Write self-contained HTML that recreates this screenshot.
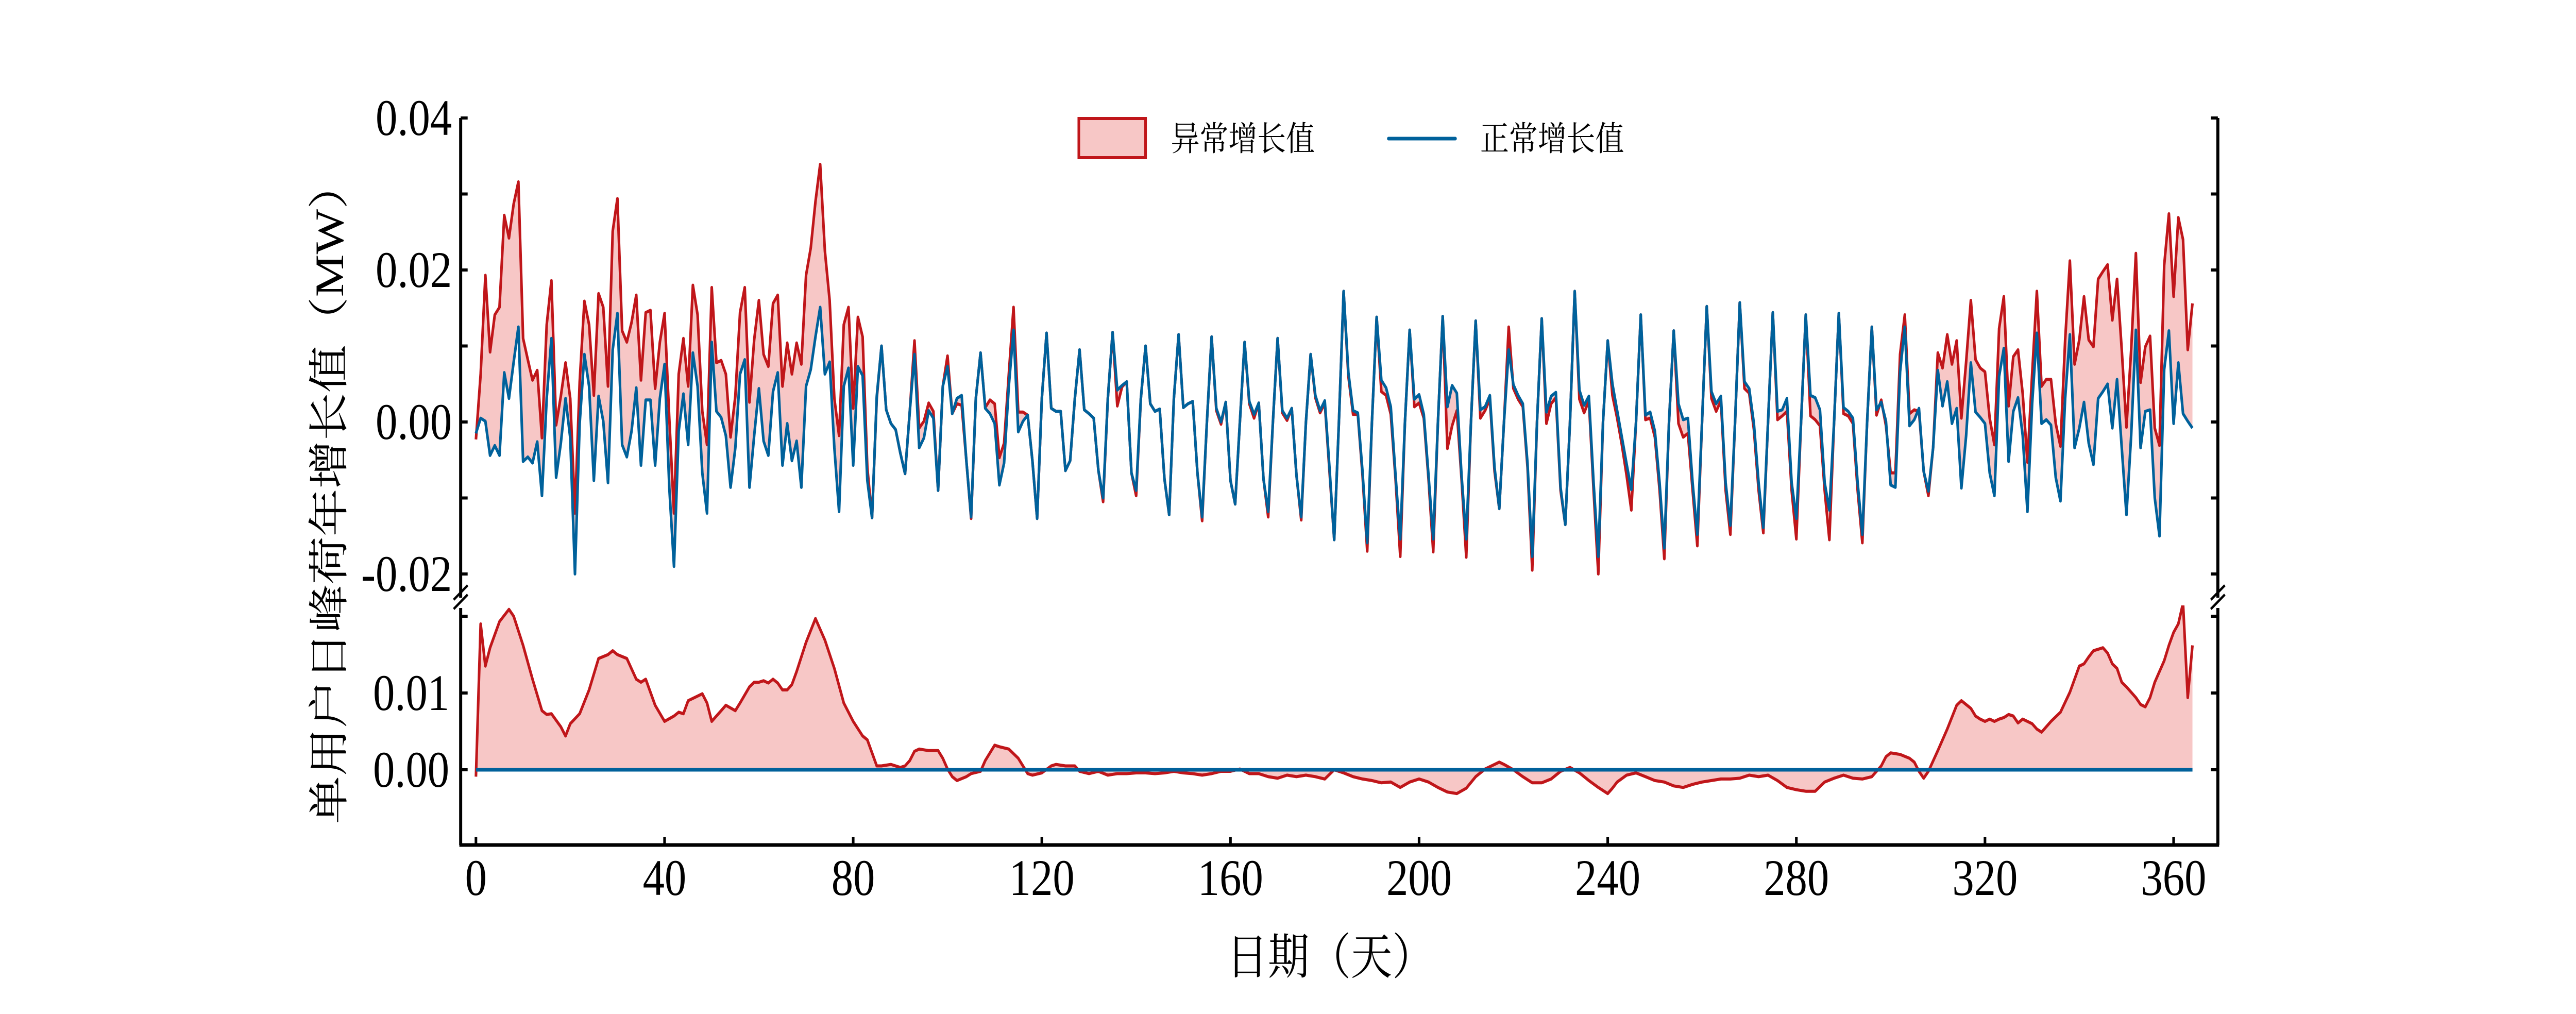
<!DOCTYPE html>
<html><head><meta charset="utf-8"><style>
html,body{margin:0;padding:0;background:#fff;overflow:hidden;width:100%;height:100%;}
svg{display:block;width:100vw;height:100vh;}
text{font-family:"Liberation Serif","Noto Serif CJK SC",serif;fill:#000;}
</style></head><body>
<svg id="chart" viewBox="0 0 5905 1968" preserveAspectRatio="none" xmlns="http://www.w3.org/2000/svg">
<defs>
<clipPath id="clipTop"><rect x="1056" y="200" width="4028" height="960"/></clipPath>
<clipPath id="clipBot"><rect x="1056" y="1175" width="4028" height="465"/></clipPath>
</defs>
<g id="topPanel" clip-path="url(#clipTop)"></g>
<g id="botPanel" clip-path="url(#clipBot)"></g>
<g id="axes"></g>
<g>
<rect x="2473" y="230" width="153" height="76" fill="#F7C7C6" stroke="#C0161A" stroke-width="6"/>
<text x="2684" y="292" font-size="66">异常增长值</text>
<line x1="3183" y1="269" x2="3336" y2="269" stroke="#00619B" stroke-width="7" stroke-linecap="round"/>
<text x="3393" y="292" font-size="66">正常增长值</text>
</g>
<text transform="translate(755,956) rotate(-90)" text-anchor="middle" dominant-baseline="central" font-size="93">单用户日峰荷年增长值（MW）</text>
<text x="3049" y="1890" text-anchor="middle" font-size="95">日期（天）</text>
</svg>
<script>
// values in kW (0.001 MW), index = day
const normalKW = [
-1.5,0.5,0.1,-4.4,-3.1,-4.4,6.5,3.1,7.9,12.5,
-5.2,-4.6,-5.4,-2.6,-9.7,3.1,11.0,-7.3,-2.8,3.1,
-2.1,-20,-0.2,8.9,4.7,-7.7,3.4,0.1,-8,9.5,
14.3,-3.0,-4.6,-1.2,4.5,-5.7,2.9,2.9,-5.7,3.1,
7.6,-8.6,-19,-1.2,3.7,-3.0,9.1,4.7,-6.7,-12,
10.5,1.4,0.6,-1.8,-8.6,-3.4,6.3,8.2,-8.6,-1.8,
4.4,-2.5,-4.4,4.0,6.5,-5.7,-0.2,-5.1,-2.5,-8.6,
4.7,6.9,11.2,15.1,6.3,7.9,-3.4,-11.8,4.7,7.1,
-5.7,7.3,6.1,-7.7,-12.6,3.4,10.0,1.6,-0.2,-1.0,
-4.1,-6.8,1.4,8.9,-3.4,-2.1,1.5,0.5,-9.0,4.7,
7.3,1.1,3.1,3.5,-5.1,-12.5,3.1,9.1,1.8,1.1,
-0.2,-8.3,-5.4,4.7,12.1,-1.3,0.1,0.9,-5.1,-12.7,
3.1,11.7,1.8,1.4,1.4,-6.4,-5.1,3.1,9.5,1.6,
1.1,0.5,-6.4,-10.0,3.1,11.8,4.2,4.8,5.3,-6.7,
-9.0,3.1,10.0,2.4,1.4,1.7,-7.5,-12.2,3.1,11.5,
1.9,2.4,2.7,-6.7,-12.5,0,11.2,1.8,0.0,2.6,
-7.7,-10.8,0,10.5,2.7,1.0,2.5,-7.5,-11.8,0,
11.0,1.5,0.5,1.8,-7.0,-12.5,0,8.9,3.5,1.5,
2.8,-6.0,-15.5,0,17.2,6.5,1.5,1.2,-6.5,-15.9,
0,13.8,5.5,4.5,2.0,-7.0,-15.4,0,12.1,3.0,
3.6,1.0,-7.0,-15.4,0,13.9,2.0,4.8,3.8,-7.0,
-15.4,0,13.3,1.6,2.0,3.5,-6.0,-11.4,0,9.5,
4.9,3.5,2.4,-5.5,-17.7,0,13.6,1.3,3.4,3.9,
-8.6,-13.5,0,17.2,4.2,2.2,3.4,-8,-17.7,0,
10.7,5.0,1.5,-2.0,-5.5,-8.9,0,14.1,0.9,1.3,
-1.2,-8,-16.6,0,12.0,2.4,0.3,0.5,-8,-14.8,
0,15.2,4.0,2.4,3.4,-8,-13.6,0,15.7,5.3,
4.4,-0.2,-8,-13.9,0,14.4,1.4,1.6,3.1,-8,
-12.7,0,14.1,3.5,3.2,1.6,-8,-11.6,0,14.3,
1.9,1.4,0.5,-8,-14.8,0,12.5,1.6,2.6,0.1,
-8.3,-8.6,6.6,12.5,-0.5,0.3,1.8,-6.5,-9.1,-3.4,
6.8,2.1,5.3,-0.2,1.8,-8.7,-1.8,7.8,1.3,0.6,
-0.2,-6.7,-9.7,6.0,9.7,-5.2,1.4,3.2,-1.8,-11.8,
2.4,11.7,-0.2,0.3,-0.4,-7.3,-10.4,3.1,11.5,-3.4,
-0.8,2.6,-2.8,-5.6,3.1,4.0,5.0,-0.8,5.6,-3.4,
-12.2,-1.8,12.1,-3.4,1.4,1.6,-10,-15.0,6.9,12.0,
-0.2,7.8,1.1,0.1,-0.8];
const abnormalKW = [
-2.3,6.3,19.3,9.2,14.1,15.1,27.2,24.2,28.7,31.6,
11.0,8.2,5.5,6.8,-2.1,12.8,18.6,-0.4,3.4,7.8,
3.1,-12,5.3,15.9,12.8,3.5,16.9,15.1,4.7,25.1,
29.4,12.0,10.5,13.1,16.7,5.5,14.4,14.7,4.4,10.5,
14.3,0.5,-12,6.3,11.0,4.7,18.0,14.1,1.4,-3.0,
17.7,7.8,8.1,6.3,-2.0,3.4,14.4,17.7,2.6,10.8,
16.0,8.9,7.3,15.6,16.7,4.7,10.4,6.3,10.4,7.6,
19.3,22.9,29.0,33.9,22.5,16.0,3.1,-1.8,12.8,15.1,
1.8,13.8,11.2,-6.0,-12.6,3.1,10.0,1.6,-0.2,-1.0,
-4.1,-6.8,1.4,10.7,-0.8,0.1,2.5,1.4,-9.0,4.7,
8.7,1.1,2.4,2.2,-5.1,-12.7,3.1,9.1,1.9,2.9,
2.4,-4.7,-2.8,6.3,15.1,1.3,1.3,0.9,-5.1,-12.7,
3.1,11.7,1.8,1.4,1.4,-6.4,-5.1,3.1,9.5,1.6,
1.1,0.5,-6.4,-10.5,3.1,11.8,2.1,4.6,5.3,-6.7,
-9.7,3.1,10.0,2.4,1.4,1.7,-7.5,-12.2,3.1,11.5,
1.9,2.4,2.7,-6.7,-13.0,0,11.2,1.5,-0.3,2.6,
-7.7,-10.8,0,10.5,2.4,0.5,2.5,-7.5,-12.5,0,
11.0,1.2,0.2,1.8,-7.0,-12.9,0,8.9,3.2,1.2,
2.5,-6.5,-15.5,0,17.2,6.0,1.0,1.0,-7,-17.0,
0,13.8,4.0,3.5,1.0,-7.5,-17.7,0,12.1,2.0,
2.5,0.5,-7.5,-17.1,0,13.9,-3.5,-0.5,1.5,-7.5,
-17.8,0,13.3,0.5,1.5,3.0,-6.5,-11.4,0,12.5,
4.4,3.0,2.0,-6,-19.5,0,13.6,-0.2,2.4,3.2,
-9,-13.5,0,17.2,3.0,1.2,2.8,-9,-20.0,0,
10.7,3.5,0.5,-3.0,-7,-11.6,0,14.1,0.3,0.5,
-2.0,-9,-18.0,0,12.0,-0.2,-2.0,-1.5,-9,-16.3,
0,15.2,3.1,1.4,2.8,-9,-14.8,0,15.7,4.4,
3.8,-1.0,-9,-14.6,0,14.4,0.3,0.8,1.4,-9,
-15.4,0,14.1,0.8,0.3,-0.5,-9,-15.5,0,14.3,
1.1,0.8,-0.2,-9,-15.9,0,12.5,0.9,2.9,-0.5,
-6.7,-6.7,8.9,14.1,1.1,1.6,1.4,-6.5,-9.7,-3.4,
9.1,7.1,11.5,7.6,10.7,0.5,7.9,16.0,8.2,7.1,
6.6,0.5,-3.0,12.3,16.5,2.1,8.6,9.5,3.7,-5.3,
6.3,17.2,4.7,5.6,5.6,-0.2,-3.2,10.8,21.2,7.6,
10.8,16.5,10.8,9.9,18.8,19.8,20.7,13.4,18.8,9.5,
-0.7,9.5,22.2,5.2,9.9,11.3,-0.8,-3.1,20.6,27.4,
16.5,26.9,24.0,9.5,15.6];
const diffDays = [0,1,2,3,5,7,8,10,12,14,15,16,18,19,20,22,24,26,28,29,30,32,34,35,36,38,40,42,43,44,45,47,48,49,50,51,52,53,55,56,58,59,60,61,62,63,64,65,66,67,68,70,72,74,76,78,80,82,83,84,85,86,88,90,91,92,93,94,96,98,99,100,101,102,104,105,107,108,110,111,113,115,117,118,120,122,123,125,127,128,130,132,134,136,138,140,142,144,146,148,150,152,154,156,158,160,162,164,166,168,170,172,174,176,178,180,182,184,186,188,190,192,194,196,198,200,202,204,206,208,210,212,214,216,217,218,220,222,224,226,228,230,232,234,236,238,240,241,242,244,246,248,250,252,254,256,258,260,262,264,266,268,270,272,274,276,278,280,282,284,286,288,290,292,294,296,298,299,300,302,304,305,306,307,308,310,312,314,315,317,318,319,320,321,322,323,324,325,326,327,328,329,330,331,332,334,336,338,340,341,342,343,344,345,346,347,348,349,350,351,352,353,354,355,356,357,358,359,360,361,362,363,364];
const diffKW = [-0.9,19,13.5,15.9,19.3,20.9,20,16.2,11.8,7.7,7.2,7.3,5.6,4.4,6.0,7.3,10.4,14.5,15.0,15.5,15.0,14.5,11.8,11.4,11.8,8.4,6.3,7.0,7.5,7.3,9.0,9.6,9.9,8.7,6.3,7.0,7.7,8.4,7.7,8.7,10.8,11.4,11.4,11.6,11.3,11.8,11.3,10.4,10.4,11.1,12.8,16.6,19.7,16.9,13.2,8.7,6.3,4.4,3.9,2.2,0.5,0.5,0.7,0.3,0.5,1.2,2.4,2.7,2.5,2.5,1.5,0.1,-0.9,-1.4,-0.9,-0.5,-0.2,1.2,3.2,3.0,2.7,1.5,-0.5,-0.7,-0.4,0.5,0.7,0.5,0.5,-0.2,-0.5,-0.2,-0.7,-0.5,-0.5,-0.4,-0.4,-0.5,-0.4,-0.2,-0.4,-0.5,-0.7,-0.5,-0.2,-0.2,0.1,-0.5,-0.5,-0.9,-1.1,-0.7,-0.9,-0.7,-0.9,-1.2,0,-0.4,-0.9,-1.2,-1.4,-1.7,-1.6,-2.3,-1.6,-1.2,-1.6,-2.3,-2.9,-3.1,-2.4,-0.9,0.1,0.7,1.0,0.7,0,-0.9,-1.7,-1.7,-1.2,-0.2,0.3,-0.4,-1.4,-2.3,-3.1,-2.4,-1.6,-0.7,-0.4,-0.9,-1.4,-1.6,-2.1,-2.3,-1.9,-1.6,-1.4,-1.2,-1.2,-1.1,-0.7,-0.9,-0.7,-1.4,-2.3,-2.6,-2.8,-2.8,-1.6,-1.1,-0.7,-1.1,-1.2,-0.9,0.5,1.7,2.2,2.0,1.5,1.0,-0.2,-1.1,-0.2,2.5,5.3,8.4,9.0,8.0,7.0,6.6,6.3,6.6,6.3,6.6,6.8,7.2,7.0,6.1,6.6,6.3,6.0,5.3,4.9,6.3,7.5,10.1,13.5,13.8,14.7,15.5,15.7,15.9,15.2,13.8,13.2,11.4,10.8,10.1,9.4,8.5,8.2,9.4,11.4,12.8,14.2,16.2,17.9,19.0,21.7,9.4,16.2];
const xTickLabels = ["0","40","80","120","160","200","240","280","320","360"];
const yTopTicks = [0.04,0.03,0.02,0.01,0,-0.01,-0.02];
const yTopTickLabels = ["0.04","","0.02","","0.00","","-0.02"];
const yBotTicks = [0.02,0.01,0];
const yBotTickLabels = ["","0.01","0.00"];

const NS = "http://www.w3.org/2000/svg";
const RED = "#C0161A", FILL = "#F7C7C6", BLUE = "#00619B";
const X0 = 1091, XD = 10.81;
function xS(d){ return X0 + XD*d; }
function yTop(mw){ return 819 - 14750*mw; }
function yBot(mw){ return 1494 - 14900*mw; }
function kw(v){ return v/1000; }
function mk(tag, attrs, parent){ const e=document.createElementNS(NS,tag); for(const k in attrs) e.setAttribute(k,attrs[k]); parent.appendChild(e); return e; }

const topG = document.getElementById('topPanel');
const botG = document.getElementById('botPanel');
const axesG = document.getElementById('axes');

const fwd = abnormalKW.map((v,i)=>xS(i).toFixed(1)+','+yTop(kw(v)).toFixed(1));
const blueP = normalKW.map((v,i)=>xS(i).toFixed(1)+','+yTop(kw(v)).toFixed(1));
const back = blueP.slice().reverse();
const fillTop = mk('polygon',{points:fwd.concat(back).join(' '),fill:FILL,stroke:'none'},topG);


const redTop = mk('polyline',{points:fwd.join(' '),fill:'none',stroke:RED,'stroke-width':6,'stroke-linejoin':'round'},topG);


const blueTop = mk('polyline',{points:blueP.join(' '),fill:'none',stroke:BLUE,'stroke-width':6,'stroke-linejoin':'round'},topG);



const dPts = diffKW.map((v,i)=>xS(diffDays[i]).toFixed(1)+','+yBot(kw(v)).toFixed(1));
const dFill = mk('polygon',{points:[xS(diffDays[0]).toFixed(1)+','+yBot(0)].concat(dPts,[xS(diffDays[diffDays.length-1]).toFixed(1)+','+yBot(0)]).join(' '),fill:FILL,stroke:'none'},botG);


const dLine = mk('polyline',{points:dPts.join(' '),fill:'none',stroke:RED,'stroke-width':6,'stroke-linejoin':'round'},botG);


const zLine = mk('line',{x1:xS(0),y1:yBot(0),x2:xS(normalKW.length-1),y2:yBot(0),stroke:BLUE,'stroke-width':7},botG);



const LX=1056, RX=5084, TOPY=229, TOPB=1160, BOTT=1180, BOTB=1640;
[[LX,TOPY,LX,TOPB,'left-spine-upper'],[RX,TOPY,RX,TOPB,'right-spine-upper'],[LX,BOTT,LX,BOTB,'left-spine-lower'],[RX,BOTT,RX,BOTB,'right-spine-lower'],[LX-3,BOTB,RX+3,BOTB,'x-axis-line']].forEach(s=>{
  const l=mk('line',{x1:s[0],y1:s[1],x2:s[2],y2:s[3],stroke:'#000','stroke-width':7},axesG);
  
  
});
[LX,RX].forEach(x=>{
  [1150,1168].forEach(y=>{
    const b=mk('line',{x1:x-16,y1:y+14,x2:x+16,y2:y-14,stroke:'#000','stroke-width':5},axesG);
    
    
  });
});
yTopTicks.forEach((t,i)=>{
  const y=yTop(t);
  [[LX,LX+16],[RX,RX-16]].forEach(p=>{
    const tk=mk('line',{x1:p[0],y1:y,x2:p[1],y2:y,stroke:'#000','stroke-width':6},axesG);
    
    
  });
  if(yTopTickLabels[i]){
    const tx=mk('text',{x:1036,y:y,'text-anchor':'end','dominant-baseline':'central','font-size':100},axesG);
    tx.textContent=yTopTickLabels[i];
    
    
  }
});
yBotTicks.forEach((t,i)=>{
  const y=yBot(t);
  [[LX,LX+16],[RX,RX-16]].forEach(p=>{
    const tk=mk('line',{x1:p[0],y1:y,x2:p[1],y2:y,stroke:'#000','stroke-width':6},axesG);
    
    
  });
  if(yBotTickLabels[i]){
    const tx=mk('text',{x:1030,y:y,'text-anchor':'end','dominant-baseline':'central','font-size':100},axesG);
    tx.textContent=yBotTickLabels[i];
    
    
  }
});
xTickLabels.forEach(lab=>{
  const x=xS(parseFloat(lab));
  const tk=mk('line',{x1:x,y1:BOTB,x2:x,y2:BOTB-16,stroke:'#000','stroke-width':6},axesG);
  
  
  const tx=mk('text',{x:x,y:1737,'text-anchor':'middle','font-size':100},axesG);
  tx.textContent=lab;
  
  
});
</script>
</body></html>
